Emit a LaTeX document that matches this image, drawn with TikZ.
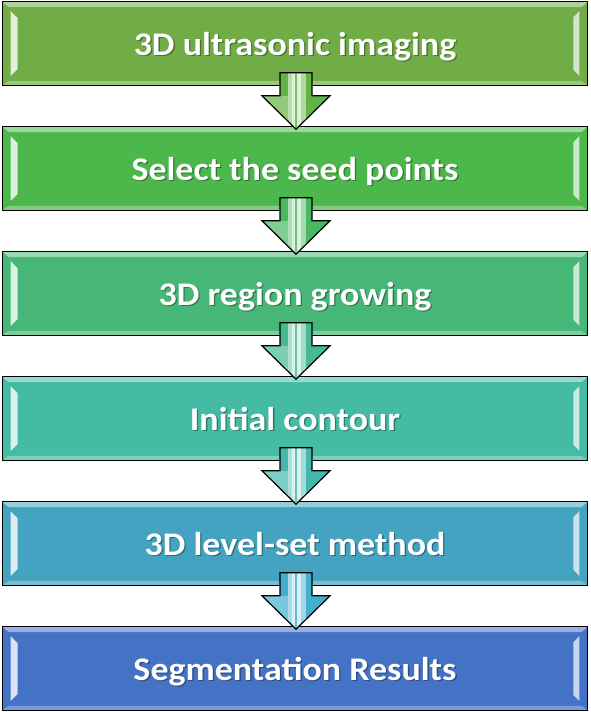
\documentclass[tikz,border=0pt]{standalone}
\usepackage{fontspec}
\setmainfont{Carlito}
\usetikzlibrary{calc}
\definecolor{c1}{HTML}{70AD47}
\definecolor{c2}{HTML}{4CB84B}
\definecolor{c3}{HTML}{47B778}
\definecolor{c4}{HTML}{45BBA3}
\definecolor{c5}{HTML}{43A3C0}
\definecolor{c6}{HTML}{4472C4}
\definecolor{a1}{HTML}{62B445}
\definecolor{a2}{HTML}{4AB860}
\definecolor{a3}{HTML}{46B98E}
\definecolor{a4}{HTML}{44B8AC}
\definecolor{a5}{HTML}{40B0CC}
\tikzset{
  box/.style={draw=black, line width=1.6pt, minimum width=585pt, minimum height=83pt, inner sep=0pt},
  txt/.style={anchor=base, text=white, font=\bfseries\fontsize{33}{38}\selectfont, inner sep=0pt, xscale=1.09},
  txtshadow/.style={txt, text=black, opacity=0.35},
  arrowline/.style={draw=black, line width=1.2pt, line join=miter}
}
\newcommand\arrowpath[2]{($(b#1.south)+(-15,13)$) -- ($(b#1.south)+(17,13)$) -- ($(b#1.south)+(17,-10)$)
    -- ($(b#1.south)+(35,-10)$) -- ($(b#2.north)+(1,-3)$) -- ($(b#1.south)+(-33,-10)$)
    -- ($(b#1.south)+(-15,-10)$) -- cycle}
\begin{document}
\begin{tikzpicture}[x=1pt,y=1pt]
\useasboundingbox (0,0) rectangle (590,-712);
\foreach \i/\c/\t in {1/c1/{3D ultrasonic imaging},2/c2/{Select the seed points},3/c3/{3D region growing},4/c4/{Initial contour},5/c5/{3D level-set method},6/c6/{Segmentation Results}}{
  \node[box, fill=\c] (b\i) at (295,{-(2+125*(\i-1)+41.5)}) {};
  % top band
  \fill[\c!55!white] ($(b\i.north west)+(1,-1)$) -- ($(b\i.north east)+(-1,-1)$) -- ($(b\i.north east)+(-7,-6)$) -- ($(b\i.north west)+(7,-6)$) -- cycle;
  % bottom band
  \fill[\c!70!white] ($(b\i.south west)+(1,1)$) -- ($(b\i.south east)+(-1,1)$) -- ($(b\i.south east)+(-7,5)$) -- ($(b\i.south west)+(7,5)$) -- cycle;
  % left highlight
  \fill[\c!20!white] ($(b\i.north west)+(9,-10)$) -- ($(b\i.north west)+(16,-17)$) -- ($(b\i.south west)+(16,17)$) -- ($(b\i.south west)+(9,10)$) -- cycle;
  % right highlight
  \fill[\c!30!white] ($(b\i.north east)+(-9,-10)$) -- ($(b\i.north east)+(-15,-16)$) -- ($(b\i.south east)+(-15,16)$) -- ($(b\i.south east)+(-9,10)$) -- cycle;
  \node[txtshadow] (s\i) at ($(b\i.center)+(1.3,-12.8)$) {\t};
  \node[txt] (t\i) at ($(b\i.center)+(0,-11.5)$) {\t};
}
\foreach \i/\j/\a in {1/2/a1,2/3/a2,3/4/a3,4/5/a4,5/6/a5}{
  \begin{scope}
    \clip \arrowpath{\i}{\j};
    \fill[\a] ($(b\i.south)+(-40,20)$) rectangle ($(b\j.north)+(40,-10)$);
    \fill[\a!70!white] ($(b\i.south)+(-33,-10)$) -- ($(b\j.north)+(1,-3)$) -- ($(b\i.south)+(1,-10)$) -- cycle;
    \fill[\a!45!white] ($(b\i.south)+(-7,20)$) rectangle ($(b\j.north)+(-3,-10)$);
    \fill[\a!20!white] ($(b\i.south)+(-3,20)$) rectangle ($(b\j.north)+(0,-10)$);
    \fill[\a!85!white] ($(b\i.south)+(0,20)$) rectangle ($(b\j.north)+(2,-10)$);
    \fill[\a!20!white] ($(b\i.south)+(2,20)$) rectangle ($(b\j.north)+(6,-10)$);
    \fill[\a!50!white] ($(b\i.south)+(6,20)$) rectangle ($(b\j.north)+(11,-10)$);
  \end{scope}
  \path[arrowline] \arrowpath{\i}{\j};
}
\end{tikzpicture}
\end{document}
